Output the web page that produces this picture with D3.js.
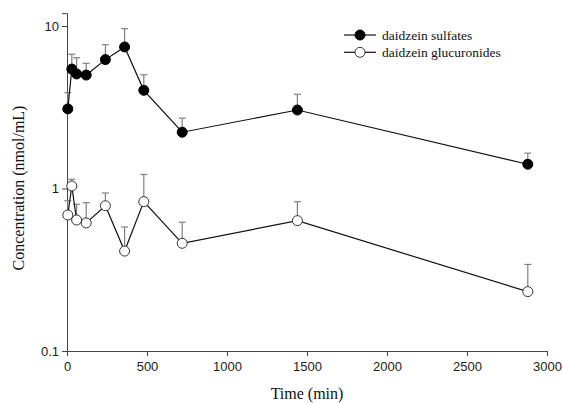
<!DOCTYPE html>
<html><head><meta charset="utf-8">
<script src="https://cdn.jsdelivr.net/npm/d3@7"></script>
<style>body{margin:0;background:#fff}svg{display:block}</style>
</head><body>
<svg id="c" width="563" height="403"></svg>
<script>
const times = [5, 30, 60, 120, 240, 360, 480, 720, 1440, 2880];
const sulfates = [3.09, 5.43, 5.07, 4.99, 6.21, 7.43, 4.02, 2.22, 3.04, 1.41];
const sulfatesErr = [3.89, 6.70, 6.38, 5.89, 7.67, 9.63, 5.01, 2.71, 3.80, 1.65];
const glucuronides = [0.687, 1.036, 0.64, 0.614, 0.783, 0.412, 0.83, 0.46, 0.634, 0.232];
const glucuronidesErr = [0.841, 1.14, 0.80, 0.818, 0.938, 0.58, 1.22, 0.62, 0.83, 0.341];
const xTicks = [0, 500, 1000, 1500, 2000, 2500, 3000];
const yTicks = [0.1, 1, 10];
const seriesNames = ["daidzein sulfates", "daidzein glucuronides"];

const svg = d3.select("#c");
const x = d3.scaleLinear().domain([0, 3000]).range([67, 547]);
const y = d3.scaleLog().domain([0.1, 10]).range([351, 26]);
const yTop = 12;

const axisColor = "#444";
const yAxis = svg.append("g").attr("transform", "translate(67,0)")
  .call(d3.axisLeft(y.copy().domain([0.1, yTop]).range([351, y(yTop)])).tickValues(yTicks).tickFormat(d => String(d)).tickSizeOuter(0).tickSize(5).tickPadding(3));
const xAxis = svg.append("g").attr("transform", "translate(0,351)")
  .call(d3.axisBottom(x).tickValues(xTicks).tickFormat(d3.format("d")).tickSizeOuter(0).tickSize(5).tickPadding(6));
[yAxis, xAxis].forEach(g => {
  g.selectAll("path,line").attr("stroke", axisColor).attr("stroke-width", 1);
  g.selectAll("text").attr("fill", "#222").style("font-family", "Liberation Sans, Arial, sans-serif").style("font-size", "13px");
});

svg.append("text").attr("x", 307).attr("y", 399).attr("text-anchor", "middle")
  .style("font-family", "Liberation Serif, Times New Roman, serif").style("font-size", "16px").attr("fill", "#111").text("Time (min)");
svg.append("text").attr("transform", "translate(24,188) rotate(-90)").attr("text-anchor", "middle")
  .style("font-family", "Liberation Serif, Times New Roman, serif").style("font-size", "16px").attr("fill", "#111").text("Concentration (nmol/mL)");

function drawSeries(vals, errs, fill) {
  const g = svg.append("g");
  const data = times.map((t, i) => ({t, v: vals[i], e: errs[i]}));
  g.selectAll(".eb").data(data).enter().append("line")
    .attr("x1", d => x(d.t)).attr("x2", d => x(d.t))
    .attr("y1", d => y(d.v)).attr("y2", d => y(d.e))
    .attr("stroke", "#808080").attr("stroke-width", 1.2);
  g.selectAll(".cap").data(data).enter().append("line")
    .attr("x1", d => x(d.t) - 3.5).attr("x2", d => x(d.t) + 3.5)
    .attr("y1", d => y(d.e)).attr("y2", d => y(d.e))
    .attr("stroke", "#808080").attr("stroke-width", 1.2);
  g.append("path").datum(data)
    .attr("d", d3.line().x(d => x(d.t)).y(d => y(d.v)))
    .attr("fill", "none").attr("stroke", "#111").attr("stroke-width", 1.2);
  g.selectAll("circle").data(data).enter().append("circle")
    .attr("cx", d => x(d.t)).attr("cy", d => y(d.v)).attr("r", 5)
    .attr("fill", fill).attr("stroke", fill === "#000" ? "#000" : "#333").attr("stroke-width", 1);
}
drawSeries(glucuronides, glucuronidesErr, "#fff");
drawSeries(sulfates, sulfatesErr, "#000");

const legend = svg.append("g");
const fills = ["#000", "#fff"];
seriesNames.forEach((n, i) => {
  const ly = 35 + i * 17.3;
  legend.append("line").attr("x1", 344).attr("x2", 376).attr("y1", ly).attr("y2", ly).attr("stroke", "#111").attr("stroke-width", 1.2);
  legend.append("circle").attr("cx", 360).attr("cy", ly).attr("r", 5).attr("fill", fills[i]).attr("stroke", i === 0 ? "#000" : "#333");
  legend.append("text").attr("x", 382).attr("y", ly + 4.5)
    .style("font-family", "Liberation Serif, Times New Roman, serif").style("font-size", "13.5px").attr("fill", "#111").text(n);
});
</script>
</body></html>
